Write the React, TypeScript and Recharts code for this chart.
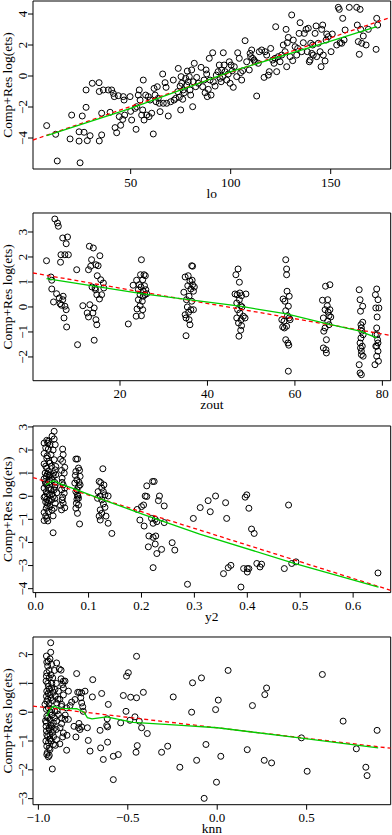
import { ScatterChart, Scatter, XAxis, YAxis, ReferenceArea } from "recharts";

type Pt = [number, number];

// lo panel
const loPoints: Pt[] = [
  [8, -3.2], [12.5, -3.76], [13.3, -5.48], [19.7, -4.06], [20.5, -2.52], [24.2, -3.6], [24.2, -4.2], [24.7, -5.6],
  [25.8, -2.58], [26.7, -3.63], [27.7, -2.02], [27.7, -0.9], [28.3, -4.17], [29.7, -3.85], [30.8, -0.47], [34.3, -4.19],
  [34.2, -0.43], [34.3, -1.0], [35.5, -3.8], [35.5, -2.4], [36.3, -0.9], [38.8, -0.9], [39.7, -2.34], [40.5, -0.9],
  [41.3, -1.12], [41.8, -1.33], [42.2, -3.33], [43, -3.66], [43.8, -1.27], [44.3, -2.62], [45, -3.18], [46, -2.8],
  [46.3, -1.33], [46.7, -1.55], [47, -2.52], [49.7, -1.33], [50, -2.28], [50.5, -2.84], [52.2, -2.09], [52.7, -3.44],
  [53, -1.98], [53.8, -1.23], [54.3, -0.9], [54.7, -1.55], [55.5, -2.52], [56, -2.19], [56.3, -0.26], [56.7, -2.84],
  [57.5, -1.23], [58, -2.52], [58.8, -1.33], [59.2, -2.62], [59.7, -1.55], [60.5, -2.4], [61.3, -3.74], [61.7, -0.8],
  [62.2, -1.23], [62.7, -1.66], [63.3, -0.69], [63.8, -1.44], [64.3, -1.76], [64.7, -2.3], [66, 0.13], [66.3, -1.76],
  [67.2, -0.43], [67.7, -0.73], [68, -1.76], [68.8, -2.58], [70, -1.66], [71.3, -0.26], [71.7, -1.55], [72.5, -1.44],
  [73.5, -1.01], [73.8, 0.49], [74.3, -1.38], [74.7, -0.65], [75, -2.19], [75.2, -0.04], [75.5, -0.47], [76, -1.5],
  [76.3, -0.9], [76.8, -1.08], [77.5, -0.15], [78, -0.58], [78.3, 0.32], [78.8, -0.37], [79.3, -0.04], [79.7, -0.9],
  [80, -1.23], [80.5, 0.39], [81, -1.98], [81.3, -0.37], [81.8, 0.82], [82.5, -0.69], [83, -0.09], [83.8, -0.47],
  [85.2, 0.56], [86, -0.69], [86.7, -0.26], [87.2, -1.08], [87.7, 0.39], [88, 0.13], [88.3, -1.33], [88.8, -0.86],
  [89.3, 1.14], [89.7, -0.26], [90.2, -1.23], [91, 1.5], [91.3, -0.37], [92.2, -0.65], [92.8, 0.06], [93.7, 0.28],
  [94.3, 0.71], [94.7, -0.15], [95.2, -0.37], [95.5, 0.39], [96, -0.04], [96.3, 1.5], [96.7, 0.71], [97.2, 0.28],
  [98, -0.26], [98.8, 0.13], [99.3, 0.92], [99.7, -0.47], [100.2, 0.71], [100.8, 0.34], [101.3, -0.73], [101.8, 0.6],
  [103, -0.04], [103.5, 1.5], [104.3, 1.14], [105, 0.22], [105.5, -0.26], [106, 0.34], [107.2, 2.28], [108, 0.92],
  [109.3, 0.39], [109.7, 1.46], [110, 1.25], [110.5, 1.68], [111, 1.14], [111.7, 1.03], [112.2, 0.92], [113, -1.29],
  [113.8, 0.82], [114.3, 1.57], [115.5, 1.68], [116.7, -0.09], [117.2, 1.57], [118, 1.35], [118.8, 0.06], [119.3, 0.28],
  [120, 1.78], [121, 1.03], [121.7, 0.82], [122.2, 1.14], [122.5, 3.18], [123, 0.28], [123.8, 1.25], [124.7, 0.92],
  [125.5, 1.35], [126.3, 2.0], [127.2, 1.57], [127.7, 3.01], [128, 0.6], [128.3, 2.15], [128.8, 2.49], [129.7, 1.25],
  [130.5, 3.94], [131, 0.99], [131.3, 2.32], [132.2, 1.89], [133, 1.35], [133.5, 1.78], [134.2, 2.75], [134.7, 3.44],
  [135.5, 1.57], [136.3, 2.15], [136.8, 2.75], [137.7, 3.01], [138.3, 1.57], [138.8, 3.08], [139.3, 0.92], [139.7, 1.03],
  [140, 2.11], [140.5, 1.46], [141, 2.0], [141.3, 1.35], [142.2, 2.75], [142.7, 3.23], [143, 1.25], [143.8, 2.11],
  [144.7, 1.57], [145.2, 0.6], [145.5, 3.01], [146, 3.29], [146.3, 1.35], [147.2, 0.97], [147.7, 2.32], [148, 2.71],
  [148.8, 2.54], [150.2, 1.57], [150.8, 2.71], [153, 2.0], [153.8, 4.43], [154.3, 4.3], [154.7, 2.15], [155.5, 2.11],
  [156, 3.72], [156.7, 2.32], [157.2, 2.97], [159.3, 4.43], [163, 4.43], [163.3, 3.29], [163.8, 2.22], [164.3, 1.4],
  [164.7, 4.3], [165, 3.01], [165.5, 2.11], [166.3, 2.58], [167.7, 2.0], [168.8, 3.01], [172.7, 1.72], [173, 3.72],
  [173.5, 3.29],
];
const loLinear: Pt[] = [[1.17, -4.13], [180, 3.79]];
const loSmooth: Pt[] = [[8, -3.84], [50, -2.09], [100, 0.28], [150, 2.25], [173, 3.18]];

// zout panel
const zoutPoints: Pt[] = [
  [3.2, 1.85], [4.2, 1.2], [4.4, 1.07], [4.4, 0.72], [4.8, 0.2], [5.1, 3.52], [5.7, 3.36], [5.9, 3.23], [5.5, 0.53],
  [6.1, 0.36], [6.3, 0.13], [6.4, 1.79], [6.5, 2.09], [6.6, 0.07], [6.9, 2.76], [7.2, -0.44], [7.4, 2.09], [7.4, 0.03],
  [7.7, 2.53], [7.7, -0.11], [7.8, -0.8], [8.0, 2.8], [8.2, 2.09], [7.0, 0.43], [6.9, 0.29], [10.1, 1.49], [10.3, -1.51],
  [11.5, 0.05], [12.5, -0.24], [12.8, 1.49], [12.8, -0.4], [13.0, 2.43], [13.1, 0.09], [13.3, 1.63], [13.5, 1.89],
  [13.6, 0.8], [13.8, -0.24], [13.9, 2.36], [14.1, -1.33], [14.1, -0.04], [14.3, 0.76], [14.4, 0.69], [14.5, 1.69],
  [14.5, -0.51], [14.7, -0.71], [14.7, 0.49], [14.8, 1.25], [15.0, 1.65], [15.3, 0.32], [15.4, 2.05], [15.6, 1.09],
  [15.8, 0.49], [16.2, 0.96], [16.3, 0.76], [21.9, -0.68],
  [23.0, 0.87], [23.7, -0.37], [23.8, 1.07], [23.9, -0.08], [24.2, 0.29], [24.2, 0.69], [24.4, 0.89], [24.6, 0.49],
  [24.6, 0.05], [24.7, 1.29], [24.8, 0.8], [24.9, 1.89], [24.9, -0.35], [25.1, 0.23], [25.2, 1.09], [25.2, -0.11],
  [25.3, 0.63], [25.3, 0.43], [25.5, 1.29], [25.6, 0.85], [25.7, 0.49], [25.8, 1.25], [25.9, 0.69], [26.1, 0.53],
  [34.6, 0.59], [34.9, 1.2], [34.9, -0.31], [35.1, -1.15], [35.1, -0.44], [35.2, 0.29], [35.4, 0], [35.5, 0.85],
  [35.6, 1.25], [35.7, -0.21], [35.8, -0.51], [35.8, 0.43], [36.0, 1.03], [36.0, -0.71], [36.2, 0.72], [36.2, -0.11],
  [36.4, 1.65], [36.4, 0.23], [36.5, 1.07], [36.6, 1.63], [36.6, 0.89], [36.8, -0.11], [36.8, 0.63], [37.0, 0.8],
  [46.3, 0.52], [46.5, 1.29], [46.7, 0.16], [46.7, -0.44], [46.8, 0.49], [46.9, -0.11], [47.0, 1.52], [47.1, -0.64],
  [47.2, -1.17], [47.3, 0.99], [47.3, 0.29], [47.4, -0.24], [47.4, 0.56], [47.6, -0.93], [47.6, 0.05], [47.7, -0.51],
  [47.8, 0.45], [47.8, -0.75], [47.9, 0], [48.2, -0.37], [48.6, -0.44], [48.8, 0.52],
  [57.3, 0.32], [57.5, -0.57], [57.6, -0.84], [57.7, 0.23], [57.9, -0.15], [57.9, 1.89], [57.9, -1.31], [58.1, 1.52],
  [58.1, 1.29], [58.1, -0.77], [58.2, 0.63], [58.3, -0.35], [58.4, -1.44], [58.5, -2.57], [58.5, 0.03], [58.6, -1.53],
  [58.7, 0.43], [58.7, -0.44], [58.9, -0.51], [57.0, -0.51], [57.2, -0.8],
  [66.3, 0.27], [66.5, -0.44], [66.5, -1.64], [66.6, -0.97], [66.9, -0.11], [67.0, 0.83], [67.1, -1.71], [67.2, -1.31],
  [67.2, -1.84], [67.4, 0.05], [67.5, -0.57], [67.5, 0.29], [67.6, -0.21], [67.8, -0.35], [67.8, -0.71], [68.0, 0.89],
  [68.0, -0.11], [68.2, -0.4], [66.9, -0.84],
  [74.7, 0.69], [74.7, -2.31], [74.9, 0.29], [74.9, -2.64], [75.0, -0.17], [75.0, -1.64], [75.1, -0.71], [75.1, -1.24],
  [75.2, -2.71], [75.2, -1.91], [75.2, -0.84], [75.3, -0.97], [75.4, -1.57], [75.5, 0.03], [75.5, -0.61], [75.6, -1.11],
  [75.6, -1.97], [74.9, -1.44], [75.2, -1.77],
  [78.3, -2.31], [78.4, 0.49], [78.5, -1.57], [78.5, -0.04], [78.7, 0.72], [78.7, -1.97], [78.7, -0.84], [78.8, -0.4],
  [78.8, -1.11], [78.9, -1.31], [79.0, -1.44], [79.0, -1.77], [79.0, 0.29], [79.1, -2.17], [79.2, -0.04], [78.7, -1.57],
  [78.4, -1.11],
];
const zoutLinear: Pt[] = [[0.11, 1.36], [81.9, -1.14]];
const zoutSmooth: Pt[] = [[3.2, 1.13], [25.3, 0.52], [47.4, 0.03], [58.1, -0.28], [67.2, -0.67], [74.9, -0.97], [78.7, -1.24]];

// y2 panel
const y2Points: Pt[] = [
  [0.021, 2.42], [0.023, 2.3], [0.024, 2.04], [0.021, 1.65], [0.025, 1.51], [0.021, 1.22], [0.024, 1.07], [0.02, 0.86],
  [0.026, 0.71], [0.021, 0.49], [0.024, 0.35], [0.02, 0.2], [0.026, 0.06], [0.021, -0.13], [0.023, -0.3], [0.02, -0.52],
  [0.024, -0.67], [0.021, -0.96], [0.023, -1.07], [0.027, 1.43], [0.029, 1.8], [0.027, 0.93], [0.029, 0.28],
  [0.027, -0.45], [0.03, -0.16], [0.018, 0.64], [0.018, -0.01], [0.018, 1.0], [0.024, 2.38], [0.027, 2.23],
  [0.016, 2.3], [0.019, 2.1], [0.016, 1.85], [0.022, 1.75], [0.016, 1.4], [0.019, 1.3], [0.022, 0.95], [0.016, 0.75],
  [0.019, 0.55], [0.016, 0.35], [0.022, 0.1], [0.016, -0.05], [0.019, -0.25], [0.022, -0.4], [0.016, -0.7],
  [0.019, -0.85], [0.016, -1.05], [0.025, 0.9], [0.025, 0.6], [0.025, -0.2],
  [0.035, 2.81], [0.035, 2.48], [0.037, 2.23], [0.035, 1.58], [0.037, 1.14], [0.033, 0.86], [0.037, 0.49], [0.035, 0.28],
  [0.037, -0.3], [0.035, -0.52], [0.033, -1.58], [0.038, 0.93], [0.033, -0.01], [0.038, 1.29],
  [0.031, 2.6], [0.033, 2.0], [0.03, 1.3], [0.034, 1.0], [0.031, 0.7], [0.036, 0.4], [0.031, 0.1], [0.036, -0.1],
  [0.031, -0.6], [0.033, -0.85], [0.036, 0.6], [0.04, 0.15],
  [0.051, 2.04], [0.052, 1.8], [0.051, 1.51], [0.049, 1.12], [0.054, 1.0], [0.05, 0.78], [0.052, 0.49], [0.049, 0.28],
  [0.051, -0.04], [0.052, -0.3], [0.049, -0.59], [0.054, 0.13], [0.05, -0.16],
  [0.047, 1.6], [0.055, 1.25], [0.05, 0.6], [0.055, 0.35], [0.047, -0.4], [0.055, -0.5],
  [0.076, 1.61], [0.079, 1.61], [0.081, 1.22], [0.076, 1.07], [0.083, 1.12], [0.078, 0.71], [0.074, 0.57], [0.081, 0.42],
  [0.084, 0.49], [0.076, 0.2], [0.079, 0.06], [0.078, -0.13], [0.081, -0.38], [0.076, -0.52], [0.079, -0.74],
  [0.083, -1.2], [0.084, 0.86], [0.078, 0.28], [0.081, -0.09], [0.075, 0.9], [0.08, 0.0], [0.077, -0.3], [0.082, 0.6],
  [0.127, 1.19], [0.12, 0.64], [0.123, 0.59], [0.129, 0.49], [0.125, 0.35], [0.118, 0.2], [0.128, 0.2], [0.122, 0.01],
  [0.131, 0.06], [0.117, -0.09], [0.125, -0.16], [0.128, -0.33], [0.131, -0.48], [0.122, -0.59], [0.125, -0.74],
  [0.12, -0.86], [0.122, -1.03], [0.133, -0.86], [0.137, 0.01], [0.137, -1.17], [0.144, -1.61],
  [0.21, 0.45], [0.221, 0.64], [0.224, 0.64], [0.207, 0.01], [0.21, -0.01], [0.234, 0.01], [0.204, -0.38], [0.192, -0.57],
  [0.2, -0.45], [0.197, -1.03], [0.205, -1.29], [0.219, -0.96], [0.226, -1.0], [0.222, -1.17], [0.229, -1.1],
  [0.232, -0.19], [0.243, -1.14], [0.243, -0.42], [0.214, -1.72], [0.213, -2.19], [0.222, -1.78], [0.227, -1.72],
  [0.226, -2.07], [0.229, -2.48], [0.238, -2.3], [0.222, -3.09], [0.258, -2.01], [0.263, -2.33],
  [0.287, -3.81], [0.298, -0.96], [0.311, -0.49], [0.326, -0.19], [0.33, -0.67], [0.34, 0.01], [0.355, -3.35],
  [0.359, -0.28], [0.361, -0.96], [0.364, -3.09], [0.369, -2.99], [0.388, -3.93], [0.393, -3.13], [0.396, -0.04],
  [0.399, 0.06], [0.4, -3.13], [0.4, -3.28], [0.403, -0.52], [0.403, -3.13], [0.408, -1.42], [0.413, -1.61],
  [0.418, -2.91], [0.424, -3.06], [0.427, -2.94], [0.47, -3.13], [0.478, -0.38], [0.484, -2.91], [0.492, -2.84],
  [0.647, -3.32],
];
const y2Linear: Pt[] = [[-0.005, 0.81], [0.671, -4.07]];
const y2Smooth: Pt[] = [[0.0195, 0.49], [0.033, 0.67], [0.052, 0.49], [0.078, 0.28], [0.12, -0.09], [0.203, -0.78], [0.31, -1.64], [0.487, -2.89], [0.648, -3.93]];

// knn panel
const knnPoints: Pt[] = [
  [-0.931, 2.41], [-0.931, 2.08], [-0.944, 1.77], [-0.935, 1.85], [-0.953, 1.74], [-0.926, 1.66], [-0.898, 1.71],
  [-0.883, 1.5], [-0.873, 1.46], [-0.953, 1.37], [-0.939, 1.19], [-0.92, 1.19], [-0.873, 1.16], [-0.86, 1.08],
  [-0.851, 1.08], [-0.957, 1.08], [-0.944, 0.9], [-0.926, 0.84], [-0.907, 0.79], [-0.953, 0.73], [-0.935, 0.61],
  [-0.916, 0.69], [-0.888, 0.73], [-0.864, 0.96], [-0.86, 0.84], [-0.832, 0.73], [-0.786, 1.34], [-0.78, 0.69],
  [-0.771, 0.69], [-0.758, 0.67], [-0.739, 0.73], [-0.763, 0.5], [-0.758, 0.32], [-0.752, 0.19], [-0.749, 0.03],
  [-0.795, 0.44], [-0.814, 0.35], [-0.823, 0.23], [-0.842, 0.15], [-0.87, 0.27], [-0.898, 0.32], [-0.953, 0.38],
  [-0.963, 0.27], [-0.944, 0.15], [-0.926, 0.09], [-0.907, 0.03], [-0.888, -0.08], [-0.953, -0.14], [-0.935, -0.25],
  [-0.916, -0.37], [-0.898, -0.31], [-0.87, -0.2], [-0.851, -0.25], [-0.832, -0.25], [-0.957, -0.49], [-0.939, -0.6],
  [-0.916, -0.6], [-0.879, -0.54], [-0.86, -0.72], [-0.953, -0.78], [-0.935, -0.93], [-0.944, -1.06], [-0.916, -1.12],
  [-0.898, -0.95], [-0.864, -0.86], [-0.953, -1.18], [-0.935, -1.3], [-0.953, -1.47], [-0.944, -1.55], [-0.939, -1.5],
  [-0.955, 1.95], [-0.948, 1.6], [-0.94, 1.45], [-0.955, 1.25], [-0.93, 1.3], [-0.948, 1.0], [-0.925, 1.0],
  [-0.94, 0.8], [-0.955, 0.55], [-0.93, 0.5], [-0.948, 0.45], [-0.92, 0.4], [-0.94, 0.3], [-0.955, 0.1], [-0.935, 0.0],
  [-0.925, -0.1], [-0.948, -0.2], [-0.955, -0.35], [-0.93, -0.45], [-0.94, -0.55], [-0.92, -0.7], [-0.955, -0.65],
  [-0.948, -0.85], [-0.935, -0.8], [-0.925, -0.5], [-0.958, -1.0], [-0.94, -1.25], [-0.93, -1.0], [-0.95, -1.4],
  [-0.91, -0.2], [-0.905, 0.55], [-0.9, -0.6], [-0.895, 0.05], [-0.91, 1.45], [-0.9, 1.0], [-0.945, 0.65],
  [-0.96, -0.3], [-0.915, -0.85], [-0.905, -1.15], [-0.89, 0.45], [-0.88, 0.45], [-0.87, -0.4], [-0.86, 0.6],
  [-0.85, -0.1], [-0.84, -0.8], [-0.88, -1.1], [-0.87, 0.2],
  [-0.922, -1.97], [-0.842, -1.32], [-0.801, -0.49], [-0.79, -0.86], [-0.776, -0.54], [-0.767, -0.6], [-0.758, -0.51],
  [-0.773, -0.39], [-0.726, -0.54], [-0.721, -0.98], [-0.711, -1.35], [-0.696, 1.13], [-0.698, 0.53], [-0.652, -1.24],
  [-0.646, 0.65], [-0.655, -0.63], [-0.637, -1.64], [-0.613, -1.04], [-0.618, -0.46], [-0.615, -0.23], [-0.609, 0.27],
  [-0.613, -0.51], [-0.581, -1.53], [-0.581, -2.34], [-0.553, -1.47], [-0.54, -0.37], [-0.525, 0.58], [-0.51, 0.03],
  [-0.507, 1.25], [-0.497, 1.37], [-0.488, -0.28], [-0.484, 0.52], [-0.46, -0.16], [-0.454, -1.39], [-0.451, 0.5],
  [-0.451, 1.94], [-0.447, -1.16], [-0.436, -0.31], [-0.423, -0.54], [-0.413, 0.69], [-0.391, -0.74], [-0.311, -1.39],
  [-0.277, -1.18], [-0.246, 0.53], [-0.209, -1.91], [-0.143, 0.0], [-0.138, 1.02], [-0.115, -1.67], [-0.088, 1.19],
  [-0.073, -2.99], [-0.063, -1.12], [-0.009, 0.09], [-0.004, -2.43], [0.006, 0.42], [0.02, -1.53], [0.061, 1.45],
  [0.168, -1.3], [0.197, 0.23], [0.263, -1.67], [0.266, 0.61], [0.276, 0.84], [0.304, -1.76], [0.471, -0.89],
  [0.503, -2.05], [0.588, 1.31], [0.704, -0.31], [0.778, -1.27], [0.831, -1.91], [0.838, -2.2], [0.894, -0.63],
];
const knnLinear: Pt[] = [[-1.03, 0.21], [0.97, -1.25]];
const knnSmooth: Pt[] = [
  [-0.953, -0.14], [-0.935, 0.1], [-0.916, 0.21], [-0.88, 0.13], [-0.785, 0.12], [-0.745, 0.0], [-0.726, -0.19],
  [-0.7, -0.23], [-0.618, -0.16], [-0.47, -0.35], [-0.2, -0.46], [0, -0.54], [0.46, -0.89], [0.9, -1.24],
];

const FONT = '"Liberation Serif", "Times New Roman", serif';
const WIDTH = 392;
const PLOT_LEFT = 33;
const PLOT_RIGHT = 390.7;
const TOP_PAD = 4;
const X_AXIS_H = 32;
const Y_TITLE = "Comp+Res log(ets)";

const fmt = (v: number, digits: number) => {
  const s = Math.abs(v).toFixed(digits);
  return v < 0 ? "\u2212" + s : s;
};

const toData = (arr: Pt[]) => arr.map(([x, y]) => ({ x, y }));

const Ring = (props: any) => (
  <circle cx={props.cx} cy={props.cy} r={3} fill="none" stroke="#000" strokeWidth={1} />
);
const Blank = () => <g />;

const XTick = (props: any) => (
  <text x={props.x} y={props.y} dy={12.5} textAnchor="middle" fontSize={13} fontFamily={FONT} fill="#000">
    {fmt(props.payload.value, props.digits)}
  </text>
);

const YTick = (props: any) => {
  const bx = props.x - 1.3;
  return (
    <text x={bx} y={props.y} transform={`rotate(-90 ${bx} ${props.y})`} textAnchor="middle" fontSize={13} fontFamily={FONT} fill="#000">
      {fmt(props.payload.value, props.digits)}
    </text>
  );
};

const Title = (props: any) => (
  <text
    x={props.tx}
    y={props.ty}
    transform={props.rot ? `rotate(-90 ${props.tx} ${props.ty})` : undefined}
    textAnchor="middle"
    fontSize={13.5}
    fontFamily={FONT}
    fill="#000"
  >
    {props.text}
  </text>
);

type PanelProps = {
  boxTop: number;
  boxBottom: number;
  xDomain: [number, number];
  yDomain: [number, number];
  xTicks: number[];
  yTicks: number[];
  xDigits: number;
  xTitle: string;
  points: Pt[];
  linear: Pt[];
  smooth: Pt[];
};

function Panel(p: PanelProps) {
  const plotH = p.boxBottom - p.boxTop;
  const height = plotH + TOP_PAD + X_AXIS_H;
  return (
    <div style={{ position: "absolute", left: 0, top: p.boxTop - TOP_PAD }}>
      <ScatterChart
        width={WIDTH}
        height={height}
        margin={{ top: TOP_PAD, right: WIDTH - PLOT_RIGHT, bottom: 0, left: 0 }}
      >
        <XAxis
          type="number"
          dataKey="x"
          domain={p.xDomain}
          ticks={p.xTicks}
          interval={0}
          allowDataOverflow
          axisLine={false}
          tickLine={{ stroke: "#000" }}
          tickSize={5}
          tickMargin={0}
          height={X_AXIS_H}
          tick={<XTick digits={p.xDigits} />}
          label={<Title tx={(PLOT_LEFT + PLOT_RIGHT) / 2} ty={TOP_PAD + plotH + 28.5} text={p.xTitle} />}
        />
        <YAxis
          type="number"
          dataKey="y"
          domain={p.yDomain}
          ticks={p.yTicks}
          interval={0}
          allowDataOverflow
          axisLine={false}
          tickLine={{ stroke: "#000" }}
          tickSize={5}
          tickMargin={0}
          width={PLOT_LEFT}
          tick={<YTick digits={0} />}
          label={<Title tx={11.7} ty={TOP_PAD + plotH / 2} rot text={Y_TITLE} />}
        />
        <ReferenceArea
          x1={p.xDomain[0]}
          x2={p.xDomain[1]}
          y1={p.yDomain[0]}
          y2={p.yDomain[1]}
          fill="none"
          stroke="#000"
          strokeWidth={1}
        />
        <Scatter data={toData(p.points)} shape={Ring} isAnimationActive={false} />
        <Scatter
          data={toData(p.linear)}
          shape={Blank}
          fill="#ff0000"
          line={{ stroke: "#ff0000", strokeWidth: 1.3, strokeDasharray: "4 3" }}
          isAnimationActive={false}
        />
        <Scatter
          data={toData(p.smooth)}
          shape={Blank}
          fill="#00cd00"
          line={{ stroke: "#00cd00", strokeWidth: 1.3 }}
          isAnimationActive={false}
        />
      </ScatterChart>
    </div>
  );
}

export default function App() {
  return (
    <div style={{ position: "absolute", left: 0, top: 0, width: WIDTH, height: 835, background: "#fff" }}>
      <Panel
        boxTop={1}
        boxBottom={169}
        xDomain={[1.17, 180]}
        yDomain={[-6, 4.84]}
        xTicks={[50, 100, 150]}
        yTicks={[-4, -2, 0, 2, 4]}
        xDigits={0}
        xTitle="lo"
        points={loPoints}
        linear={loLinear}
        smooth={loSmooth}
      />
      <Panel
        boxTop={213.3}
        boxBottom={381}
        xDomain={[0.11, 81.9]}
        yDomain={[-2.95, 3.76]}
        xTicks={[20, 40, 60, 80]}
        yTicks={[-2, -1, 0, 1, 2, 3]}
        xDigits={0}
        xTitle="zout"
        points={zoutPoints}
        linear={zoutLinear}
        smooth={zoutSmooth}
      />
      <Panel
        boxTop={425.7}
        boxBottom={592.3}
        xDomain={[-0.005, 0.671]}
        yDomain={[-4.17, 3.04]}
        xTicks={[0, 0.1, 0.2, 0.3, 0.4, 0.5, 0.6]}
        yTicks={[-4, -3, -2, -1, 0, 1, 2, 3]}
        xDigits={1}
        xTitle="y2"
        points={y2Points}
        linear={y2Linear}
        smooth={y2Smooth}
      />
      <Panel
        boxTop={637.3}
        boxBottom={805}
        xDomain={[-1.03, 0.97]}
        yDomain={[-3.21, 2.61]}
        xTicks={[-1, -0.5, 0, 0.5]}
        yTicks={[-3, -2, -1, 0, 1, 2]}
        xDigits={1}
        xTitle="knn"
        points={knnPoints}
        linear={knnLinear}
        smooth={knnSmooth}
      />
    </div>
  );
}
